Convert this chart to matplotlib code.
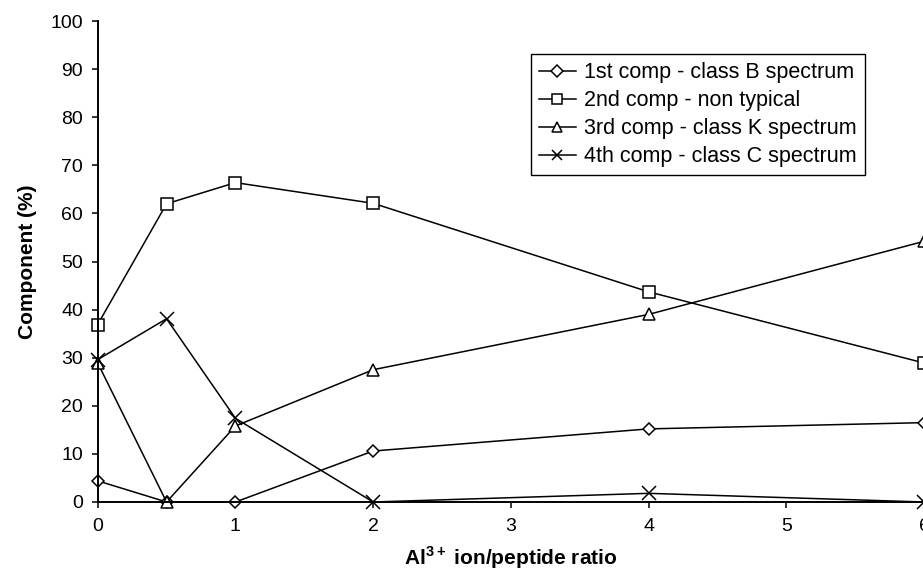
import numpy as np
import matplotlib
matplotlib.use('Agg')
import matplotlib.pyplot as plt

plt.rcParams['font.family'] = ['Liberation Sans', 'DejaVu Sans']
plt.rcParams['mathtext.fontset'] = 'custom'
plt.rcParams['mathtext.rm'] = 'Liberation Sans'
plt.rcParams['mathtext.bf'] = 'Liberation Sans:bold'

# data
ratio = [0, 0.5, 1, 2, 4, 6]
comp1 = [4.4, 0, 0, 10.6, 15.2, 16.5]       # class B spectrum
comp2 = [36.9, 62.0, 66.4, 62.1, 43.7, 28.9]  # non typical
comp3 = [28.9, 0, 15.8, 27.5, 39.0, 54.2]     # class K spectrum
comp4 = [29.6, 38.1, 17.4, 0, 1.8, 0]         # class C spectrum

labels = ['1st comp - class B spectrum', '2nd comp - non typical',
          '3rd comp - class K spectrum', '4th comp - class C spectrum']
markers = ['D', 's', '^', 'x']
sizes = [6.5, 8.5, 8.5, 10]
series = [comp1, comp2, comp3, comp4]

fig = plt.figure(figsize=(9.23, 5.72), dpi=100)
ax = fig.add_axes([97.7 / 923, 70 / 572, 826.3 / 923, 481 / 572])

for vals, m, s, lab in zip(series, markers, sizes, labels):
    ax.plot(ratio, vals, color='black', lw=1.1, marker=m, markersize=s,
            mfc='white', mec='black', mew=1.1, label=lab, clip_on=False)

ax.set_xlim(0, 6)
ax.set_ylim(0, 100)
ax.set_xticks(range(0, 7))
ax.set_yticks(range(0, 101, 10))
for sp in ['top', 'right']:
    ax.spines[sp].set_visible(False)
for sp in ['left', 'bottom']:
    ax.spines[sp].set_linewidth(1.4)
ax.tick_params(axis='both', direction='out', length=4.5, width=1.1, labelsize=14, color='black')
ax.tick_params(axis='y', pad=6)
ax.tick_params(axis='x', pad=7)

ax.set_xlabel(r'Al$^{\mathbf{3+}}$ ion/peptide ratio', fontsize=15, fontweight='bold', labelpad=7)
ax.set_ylabel('Component (%)', fontsize=15, fontweight='bold', labelpad=10)

# legend box, top-left corner placed as in the picture
leg = ax.legend(loc='upper left', bbox_to_anchor=(0.5244, 0.931), fontsize=15.5,
                frameon=True, fancybox=False, framealpha=1, edgecolor='black',
                handlelength=1.7, handletextpad=0.4, borderpad=0.38, labelspacing=0.32,
                borderaxespad=0)
leg.get_frame().set_linewidth(1.0)
for h in leg.legend_handles:
    h.set_markersize(6.5)

fig.savefig('out.png', dpi=100)
